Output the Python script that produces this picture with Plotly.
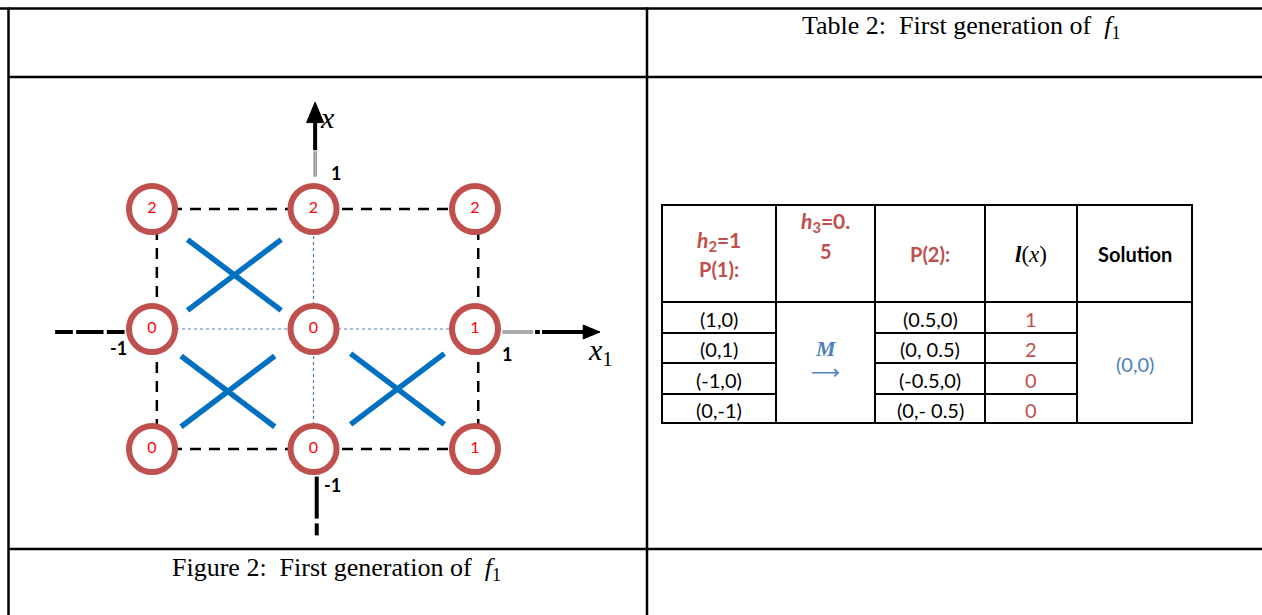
import plotly.graph_objects as go

W, H = 1262, 615

# ---------------- data ----------------
# diagram: grid points and their l(x) values
grid_x = [-1, 0, 1, -1, 0, 1, -1, 0, 1]
grid_y = [1, 1, 1, 0, 0, 0, -1, -1, -1]
grid_labels = ["2", "2", "2", "0", "0", "1", "0", "0", "1"]
# centres of the blue crosses (discarded quadrants)
cross_x = [-0.49, -0.53, 0.52]
cross_y = [0.45, -0.52, -0.50]
# axis tick labels
tick_text = ["1", "-1", "-1", "1"]
tick_x = [0.14, 0.12, -1.21, 1.20]
tick_y = [1.30, -1.30, -0.16, -0.21]

# table
col_p1 = ["(1,0)", "(0,1)", "(-1,0)", "(0,-1)"]
col_p2 = ["(0.5,0)", "(0, 0.5)", "(-0.5,0)", "(0,- 0.5)"]
col_l = ["1", "2", "0", "0"]
solution = "(0,0)"
table_caption = "Table 2:\u00a0 First generation of\u00a0 "
figure_caption = "Figure 2:\u00a0 First generation of\u00a0 "

# ---------------- style ----------------
RED = "#C0504D"
BLUE = "#4F81BD"
XBLUE = "#0070C0"
SANS = "Lato"
SERIF = "Liberation Serif"
FS = 20

# diagram pixel mapping (centre px, px per unit)
X0, SX, Y0, SY = 313.5, 161.5, 329.0, 120.0
x2_range = [(0 - X0) / SX, (W - X0) / SX]
y2_range = [(Y0 - H) / SY, Y0 / SY]

fig = go.Figure()
shapes = []
ann = []


def pline(x0, y0, x1, y1, w=2.5, color="black", dash=None):
    d = dict(type="line", xref="x", yref="y", x0=x0, y0=y0, x1=x1, y1=y1,
             line=dict(color=color, width=w), layer="below")
    if dash:
        d["line"]["dash"] = dash
    shapes.append(d)


def dline(x0, y0, x1, y1, w=2.5, color="black", dash=None):
    d = dict(type="line", xref="x2", yref="y2", x0=x0, y0=y0, x1=x1, y1=y1,
             line=dict(color=color, width=w), layer="below")
    if dash:
        d["line"]["dash"] = dash
    shapes.append(d)


def dpath(path, color="black"):
    shapes.append(dict(type="path", xref="x2", yref="y2", path=path,
                       fillcolor=color, line=dict(color=color, width=1), layer="below"))


def ptext(x, y, text, size=FS, color="black", family=SANS, xanchor="center"):
    ann.append(dict(x=x, y=y, xref="x", yref="y", text=text, showarrow=False,
                    font=dict(size=size, color=color, family=family),
                    xanchor=xanchor, yanchor="middle"))


def dtext(x, y, text, size=15, color="black", family=SANS):
    ann.append(dict(x=x, y=y, xref="x2", yref="y2", text=text, showarrow=False,
                    font=dict(size=size, color=color, family=family),
                    xanchor="center", yanchor="middle"))


# ---------------- outer layout table ----------------
LW = 2.5
pline(0, 8.5, W, 8.5, LW)
pline(8.5, 77, W, 77, LW)
pline(8.5, 549, W, 549, LW)
pline(8.5, 7.5, 8.5, H, LW)
pline(647, 7.5, 647, H, LW)

ptext(961, 27, table_caption + "<i>f</i><sub>1</sub>", size=26, family=SERIF)
ptext(336, 569, figure_caption + "<i>f</i><sub>1</sub>", size=26, family=SERIF)

# ---------------- inner data table ----------------
tx = [662, 776, 875, 985, 1077, 1192]
ty = [205, 302, 333, 363, 394, 423]
TW = 2
pline(tx[0], ty[0], tx[-1], ty[0], TW)
pline(tx[0], ty[-1], tx[-1], ty[-1], TW)
pline(tx[0], ty[1], tx[-1], ty[1], TW)
for xv in tx:
    pline(xv, ty[0] - 1, xv, ty[-1] + 1, TW)
for yv in ty[2:-1]:
    pline(tx[0], yv, tx[1], yv, TW)
    pline(tx[2], yv, tx[4], yv, TW)

cx = [(tx[i] + tx[i + 1]) / 2 for i in range(5)]
hfmt = "<b><i>h</i><sub>%s</sub>%s</b>"
ptext(cx[0], 241, hfmt % ("2", "=1"), size=21, color=RED)
ptext(cx[0], 269, "<b>P(1):</b>", size=FS, color=RED)
ptext(cx[1], 222, hfmt % ("3", "=0."), size=21, color=RED)
ptext(cx[1], 251, "<b>5</b>", size=FS, color=RED)
ptext(cx[2], 254, "<b>P(2):</b>", size=FS, color=RED)
ptext(cx[3], 254, "<b><i>l</i></b>(<i>x</i>)", size=23, family=SERIF)
ptext(cx[4], 254, "<b>Solution</b>", size=FS)

row_y = [(ty[i] + ty[i + 1]) / 2 + 1 for i in range(1, 5)]
for i in range(4):
    ptext(cx[0], row_y[i], col_p1[i])
    ptext(cx[2], row_y[i], col_p2[i])
    ptext(cx[3], row_y[i], col_l[i], color=RED)
ptext(cx[1], 348, "<b><i>M</i></b>", size=22, color=BLUE, family=SERIF)
ptext(cx[1], 372, "\u27f6", size=20, color=BLUE, family="DejaVu Sans")
ptext(cx[4], 364, solution, color=BLUE)

# ---------------- diagram ----------------
# dotted blue axes through the origin
dline(-1, 0, 1, 0, 1.2, BLUE, "dot")
dline(0, -1, 0, 1, 1.2, BLUE, "dot")
# dashed square
sq = [(-1, 1, 1, 1), (-1, -1, 1, -1), (-0.97, -1, -0.97, 1), (1.02, -1, 1.02, 1)]
for a, b, c, d in sq:
    dline(a, b, c, d, 2.5, "black", "11px,8px")

# black axes
AW = 4
# y axis top
dline(0.01, 1.49, 0.01, 1.74, AW)
dpath("M -0.043,1.72 L 0.063,1.72 L 0.01,1.89 Z")
dline(0.01, 1.27, 0.01, 1.48, 3, "#555555")
dline(0.01, 1.27, 0.01, 1.48, 1, "white")
# y axis bottom
dline(0.02, -1.23, 0.02, -1.58, AW)
dline(0.02, -1.62, 0.02, -1.72, AW)
# x axis left
for a, b in [(-1.60, -1.49), (-1.47, -1.30), (-1.28, -1.17)]:
    dline(a, -0.025, b, -0.025, AW)
# x axis right
dline(1.17, -0.025, 1.36, -0.025, 3, "#555555")
dline(1.17, -0.025, 1.36, -0.025, 1, "white")
dline(1.372, -0.025, 1.402, -0.025, AW)
dline(1.415, -0.025, 1.69, -0.025, AW)
dpath("M 1.67,0.033 L 1.67,-0.083 L 1.774,-0.025 Z")

# blue crosses
HX, HY = 0.29, 0.295
for x, y in zip(cross_x, cross_y):
    dline(x - HX, y + HY, x + HX, y - HY, 5.5, XBLUE)
    dline(x - HX, y - HY, x + HX, y + HY, 5.5, XBLUE)

# circles with labels
fig.add_trace(go.Scatter(
    x=grid_x, y=grid_y, xaxis="x2", yaxis="y2", mode="markers+text",
    text=grid_labels, textposition="middle center",
    textfont=dict(color="#FF0000", size=16, family=SANS),
    marker=dict(size=46, color="white", line=dict(color=RED, width=6)),
    hoverinfo="skip", showlegend=False, cliponaxis=False))

for t, x, y in zip(tick_text, tick_x, tick_y):
    dtext(x, y, "<b>" + t + "</b>", size=18)
dtext(0.085, 1.76, "<i>x</i>", size=30, family=SERIF)
dtext(1.78, -0.19, "<i>x</i><sub>1</sub>", size=30, family=SERIF)

# invisible trace for the frame axes
fig.add_trace(go.Scatter(x=[0, W], y=[0, H], mode="markers",
                         marker=dict(opacity=0), hoverinfo="skip", showlegend=False))

fig.update_layout(
    width=W, height=H, margin=dict(l=0, r=0, t=0, b=0),
    paper_bgcolor="white", plot_bgcolor="rgba(0,0,0,0)",
    xaxis=dict(range=[0, W], visible=False, fixedrange=True),
    yaxis=dict(range=[H, 0], visible=False, fixedrange=True),
    xaxis2=dict(range=x2_range, visible=False, overlaying="x", fixedrange=True),
    yaxis2=dict(range=y2_range, visible=False, overlaying="y", fixedrange=True),
    shapes=shapes, annotations=ann, showlegend=False,
)

fig.write_html("out.html", config={"displayModeBar": False, "staticPlot": True},
               post_script="document.body.style.margin='0';document.body.style.overflow='hidden';")
